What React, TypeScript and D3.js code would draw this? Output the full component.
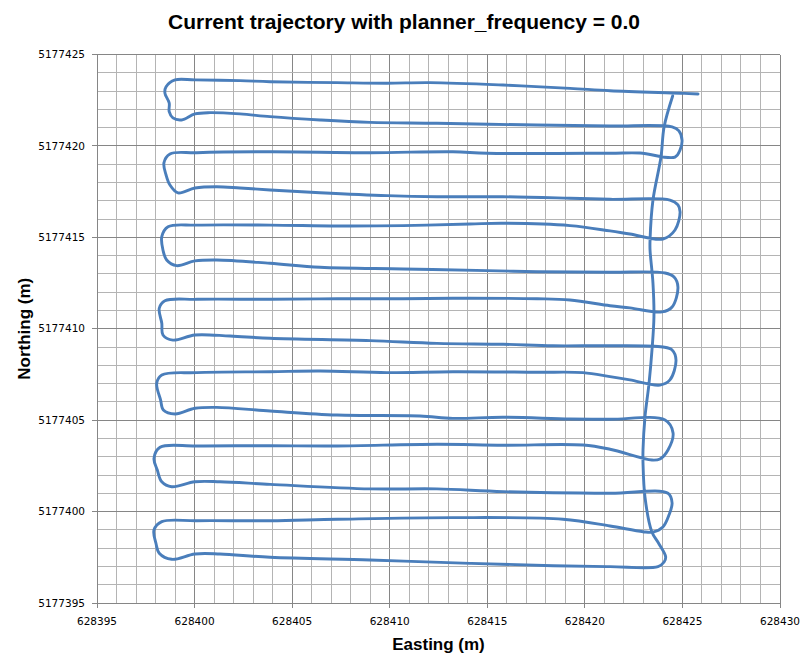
import React from 'react';
import * as d3 from 'd3';

// GPS track, [easting, northing] in metres
const trajectory: [number, number][] = [
  [628425.80, 5177422.84], [628424.88, 5177422.88], [628421.29, 5177423.02], [628419.24, 5177423.15],
  [628415.81, 5177423.33], [628412.06, 5177423.46], [628409.86, 5177423.43], [628407.30, 5177423.46],
  [628403.87, 5177423.51], [628402.33, 5177423.57], [628400.02, 5177423.61], [628399.00, 5177423.61],
  [628398.54, 5177423.24], [628398.48, 5177422.89], [628398.70, 5177422.35], [628398.70, 5177421.87],
  [628398.89, 5177421.53], [628399.34, 5177421.42], [628400.02, 5177421.75], [628400.79, 5177421.82],
  [628402.33, 5177421.75], [628403.87, 5177421.60], [628406.43, 5177421.42], [628408.99, 5177421.29],
  [628412.42, 5177421.24], [628417.55, 5177421.14], [628421.29, 5177421.09], [628424.47, 5177421.04],
  [628424.82, 5177420.82], [628424.98, 5177420.32], [628424.88, 5177419.78], [628424.62, 5177419.39],
  [628422.83, 5177419.61], [628421.29, 5177419.60], [628414.99, 5177419.60], [628413.24, 5177419.68],
  [628408.99, 5177419.63], [628403.87, 5177419.68], [628400.11, 5177419.63], [628398.74, 5177419.56],
  [628398.43, 5177419.07], [628398.54, 5177418.41], [628398.74, 5177417.86], [628399.15, 5177417.43],
  [628400.02, 5177417.70], [628401.13, 5177417.77], [628402.33, 5177417.70], [628403.87, 5177417.59],
  [628406.43, 5177417.44], [628409.86, 5177417.28], [628412.42, 5177417.22], [628415.81, 5177417.22],
  [628419.24, 5177417.14], [628421.29, 5177417.08], [628424.36, 5177417.04], [628424.77, 5177416.77],
  [628424.88, 5177416.39], [628424.62, 5177415.40], [628424.00, 5177414.91], [628422.31, 5177415.18],
  [628421.29, 5177415.35], [628419.24, 5177415.64], [628415.81, 5177415.77], [628414.11, 5177415.73],
  [628410.68, 5177415.64], [628407.30, 5177415.62], [628403.87, 5177415.67], [628400.11, 5177415.67],
  [628398.64, 5177415.58], [628398.32, 5177415.04], [628398.38, 5177414.31], [628398.57, 5177413.76],
  [628399.08, 5177413.45], [628400.02, 5177413.71], [628401.13, 5177413.76], [628403.87, 5177413.58],
  [628406.43, 5177413.36], [628410.68, 5177413.27], [628414.99, 5177413.18], [628417.55, 5177413.12],
  [628421.29, 5177413.09], [628424.11, 5177413.05], [628424.57, 5177412.83], [628424.77, 5177412.28],
  [628424.47, 5177411.19], [628423.95, 5177410.92], [628422.31, 5177411.14], [628421.29, 5177411.26],
  [628419.24, 5177411.57], [628417.55, 5177411.64], [628414.11, 5177411.67], [628410.68, 5177411.64],
  [628407.30, 5177411.64], [628403.87, 5177411.61], [628400.11, 5177411.61], [628398.48, 5177411.53],
  [628398.19, 5177411.12], [628398.32, 5177410.30], [628398.38, 5177409.66], [628398.89, 5177409.38],
  [628400.02, 5177409.66], [628401.82, 5177409.60], [628403.87, 5177409.48], [628408.99, 5177409.35],
  [628412.42, 5177409.20], [628415.81, 5177409.15], [628418.37, 5177409.07], [628421.29, 5177409.07],
  [628424.00, 5177409.00], [628424.47, 5177408.84], [628424.67, 5177408.29], [628424.36, 5177407.20],
  [628423.85, 5177406.92], [628422.31, 5177407.20], [628421.29, 5177407.38], [628419.91, 5177407.60],
  [628417.55, 5177407.62], [628413.24, 5177407.65], [628409.86, 5177407.60], [628406.43, 5177407.69],
  [628403.87, 5177407.65], [628400.11, 5177407.60], [628398.32, 5177407.47], [628398.06, 5177407.02],
  [628398.26, 5177406.10], [628398.40, 5177405.56], [628399.00, 5177405.34], [628400.02, 5177405.65],
  [628401.13, 5177405.70], [628403.87, 5177405.50], [628407.30, 5177405.28], [628411.55, 5177405.23],
  [628413.24, 5177405.10], [628415.81, 5177405.16], [628419.24, 5177405.06], [628421.29, 5177405.05],
  [628424.11, 5177405.01], [628424.52, 5177404.30], [628424.26, 5177403.37], [628423.85, 5177402.88],
  [628423.44, 5177402.82], [628421.29, 5177403.41], [628419.91, 5177403.64], [628415.81, 5177403.63],
  [628412.42, 5177403.68], [628407.30, 5177403.59], [628403.87, 5177403.60], [628400.11, 5177403.59],
  [628398.23, 5177403.52], [628397.92, 5177402.91], [628398.09, 5177402.27], [628398.32, 5177401.63],
  [628398.83, 5177401.36], [628400.02, 5177401.63], [628401.30, 5177401.63], [628403.87, 5177401.49],
  [628408.99, 5177401.24], [628412.42, 5177401.24], [628415.81, 5177401.09], [628421.29, 5177401.00],
  [628424.26, 5177401.00], [628424.47, 5177400.47], [628424.31, 5177399.81], [628424.00, 5177399.16],
  [628423.49, 5177398.88], [628422.98, 5177398.90], [628421.29, 5177399.21], [628418.88, 5177399.58],
  [628413.24, 5177399.67], [628407.30, 5177399.58], [628403.87, 5177399.50], [628400.11, 5177399.50],
  [628398.32, 5177399.45], [628397.92, 5177398.99], [628398.02, 5177398.27], [628398.19, 5177397.72],
  [628398.83, 5177397.39], [628400.02, 5177397.68], [628401.30, 5177397.68], [628403.87, 5177397.50],
  [628408.99, 5177397.35], [628414.11, 5177397.17], [628418.37, 5177397.04], [628421.29, 5177396.99],
  [628423.75, 5177396.99], [628424.06, 5177397.24], [628424.14, 5177397.53], [628423.80, 5177398.23],
  [628423.43, 5177398.90], [628423.08, 5177400.80], [628422.98, 5177402.66], [628422.98, 5177403.37],
  [628423.08, 5177405.17], [628423.29, 5177407.03], [628423.44, 5177408.84], [628423.54, 5177410.64],
  [628423.49, 5177412.50], [628423.34, 5177414.31], [628423.34, 5177414.85], [628423.49, 5177417.04],
  [628423.90, 5177419.39], [628424.06, 5177421.04], [628424.50, 5177422.73],
];

const xDomain: [number, number] = [628395, 628430];
const yDomain: [number, number] = [5177395, 5177425];
const xTicks = [628395, 628400, 628405, 628410, 628415, 628420, 628425, 628430];
const yTicks = [5177395, 5177400, 5177405, 5177410, 5177415, 5177420, 5177425];

const title = 'Current trajectory with planner_frequency = 0.0';
const xLabel = 'Easting (m)';
const yLabel = 'Northing (m)';

const W = 808;
const H = 665;
const margin = { top: 54.5, right: 28, bottom: 62, left: 97 };

export default function App() {
  const x = d3.scaleLinear().domain(xDomain).range([margin.left, W - margin.right]);
  const y = d3.scaleLinear().domain(yDomain).range([H - margin.bottom, margin.top]);

  const minorX = d3.range(xDomain[0], xDomain[1] + 1, 1);
  const minorY = d3.range(yDomain[0], yDomain[1] + 1, 1);

  const line = d3
    .line<[number, number]>()
    .x(d => x(d[0]))
    .y(d => y(d[1]))
    .curve(d3.curveCatmullRom.alpha(0.5));

  const labelFont = '"DejaVu Sans", sans-serif';
  const titleFont = '"Liberation Sans", sans-serif';

  return (
    <svg
      width={W}
      height={H}
      style={{ position: 'absolute', left: 0, top: 0, background: '#fff' }}
    >
      {/* grid: every metre, darker every 5 */}
      <g shapeRendering="crispEdges">
        {minorX.map(v => (
          <line
            key={'gx' + v}
            x1={x(v)}
            x2={x(v)}
            y1={y(yDomain[0])}
            y2={y(yDomain[1])}
            stroke={v % 5 === 0 ? '#868686' : '#b4b4b4'}
            strokeWidth={1}
          />
        ))}
        {minorY.map(v => (
          <line
            key={'gy' + v}
            x1={x(xDomain[0])}
            x2={x(xDomain[1])}
            y1={y(v)}
            y2={y(v)}
            stroke={v % 5 === 0 ? '#868686' : '#b4b4b4'}
            strokeWidth={1}
          />
        ))}
        {/* axis lines */}
        <line x1={x(xDomain[0])} x2={x(xDomain[0])} y1={y(yDomain[0])} y2={y(yDomain[1])} stroke="#868686" />
        <line x1={x(xDomain[0])} x2={x(xDomain[1])} y1={y(yDomain[0])} y2={y(yDomain[0])} stroke="#868686" />
        {xTicks.map(v => (
          <line key={'tx' + v} x1={x(v)} x2={x(v)} y1={y(yDomain[0])} y2={y(yDomain[0]) + 5} stroke="#868686" />
        ))}
        {yTicks.map(v => (
          <line key={'ty' + v} x1={x(xDomain[0]) - 5} x2={x(xDomain[0])} y1={y(v)} y2={y(v)} stroke="#868686" />
        ))}
      </g>

      {xTicks.map(v => (
        <text
          key={'lx' + v}
          x={x(v)}
          y={y(yDomain[0]) + 22}
          textAnchor="middle"
          fontFamily={labelFont}
          fontSize={10.5}
          fill="#000"
        >
          {v}
        </text>
      ))}
      {yTicks.map(v => (
        <text
          key={'ly' + v}
          x={x(xDomain[0]) - 12}
          y={y(v)}
          dy="0.35em"
          textAnchor="end"
          fontFamily={labelFont}
          fontSize={10.5}
          fill="#000"
        >
          {v}
        </text>
      ))}

      <path d={line(trajectory) ?? ''} fill="none" stroke="#4a7ebb" strokeWidth={2.9} strokeLinejoin="round" strokeLinecap="round" />

      <text x={W / 2} y={29} textAnchor="middle" fontFamily={titleFont} fontWeight="bold" fontSize={21} fill="#000">
        {title}
      </text>
      <text
        x={(x(xDomain[0]) + x(xDomain[1])) / 2}
        y={650}
        textAnchor="middle"
        fontFamily={titleFont}
        fontWeight="bold"
        fontSize={17}
        fill="#000"
      >
        {xLabel}
      </text>
      <text
        transform={`translate(30, ${(y(yDomain[0]) + y(yDomain[1])) / 2}) rotate(-90)`}
        textAnchor="middle"
        fontFamily={titleFont}
        fontWeight="bold"
        fontSize={17}
        fill="#000"
      >
        {yLabel}
      </text>
    </svg>
  );
}
